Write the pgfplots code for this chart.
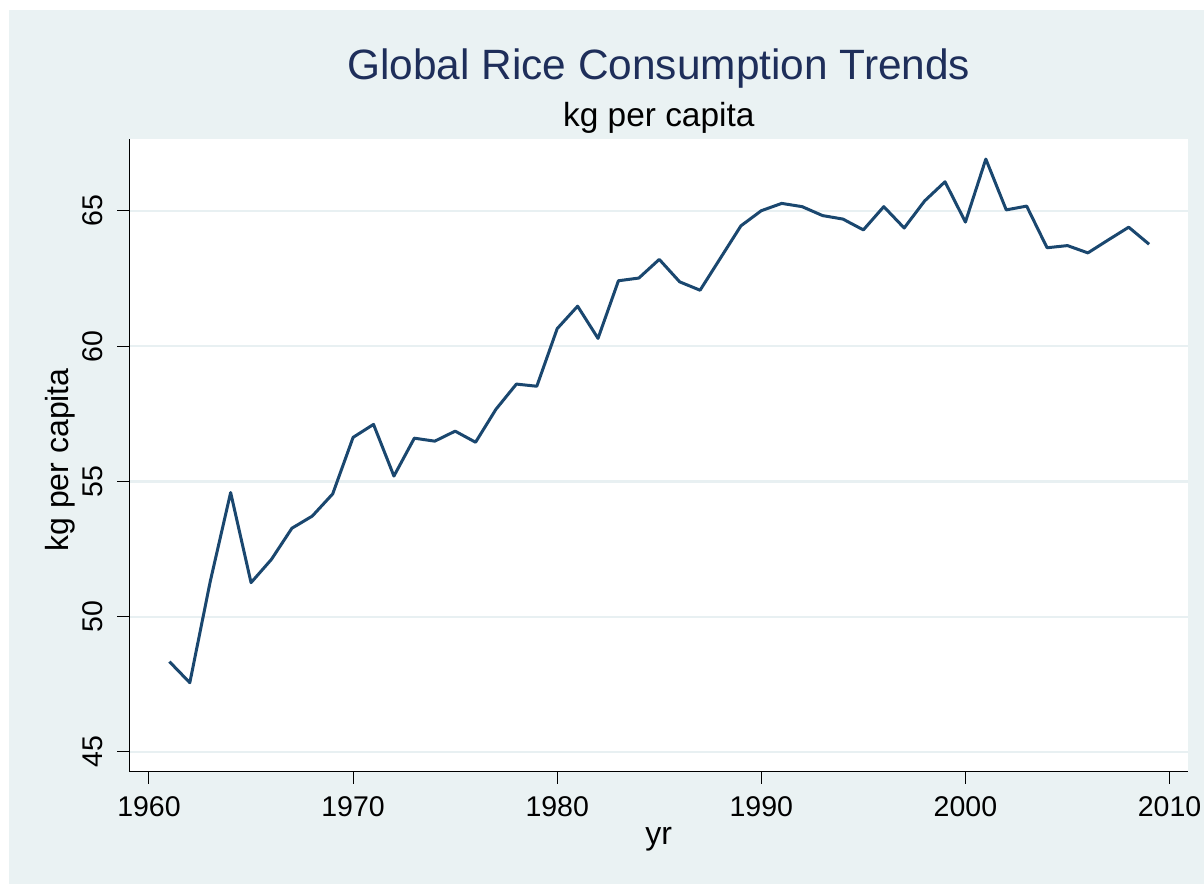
\documentclass[border=0pt]{standalone}
\usepackage{pgfplots}
\pgfplotsset{compat=1.18}
\usepackage{fontspec}
\setmainfont{Liberation Sans}

\definecolor{bgblue}{RGB}{234,242,243}
\definecolor{gridc}{RGB}{232,240,242}
\definecolor{stnavy}{RGB}{26,71,111}
\definecolor{titlec}{RGB}{30,46,90}

\begin{document}
\begin{tikzpicture}
  % graph region (1px = 0.5pt)
  \fill[white] (-64.65pt,-56.15pt) rectangle (537.35pt,385.85pt);
  \fill[bgblue] (-60.15pt,-56.15pt) rectangle (537.35pt,380.85pt);
  \begin{axis}[
      scale only axis,
      width=529.5pt, height=316.2pt,
      xmin=1959.035, xmax=2010.92,
      ymin=44.27, ymax=67.65,
      axis x line*=bottom, axis y line*=left,
      axis line style={-, black, line width=0.6pt},
      axis background/.style={fill=white},
      xtick={1960,1970,...,2010},
      ytick={45,50,...,65},
      tick align=outside,
      major tick length=6pt,
      tick style={black, line width=0.5pt},
      ymajorgrids,
      grid style={gridc, line width=1.2pt},
      /pgf/number format/assume math mode=true,
      /pgf/number format/1000 sep={},
      tick label style={font=\fontsize{14.25}{16}\selectfont},
      xticklabel style={inner sep=0pt, yshift=-6.3pt},
      yticklabel style={xshift=-6.85pt, rotate=90, anchor=south, inner sep=0pt},
      xlabel={yr},
      ylabel={kg per capita},
      every axis x label/.style={at={(rel axis cs:0.5,0)}, anchor=base, yshift=-36.6pt, font=\fontsize{16}{19}\selectfont},
      every axis y label/.style={at={(rel axis cs:0,0.5)}, xshift=-30.4pt, yshift=-2.2pt, rotate=90, anchor=base, font=\fontsize{16}{19}\selectfont},
      clip=false,
    ]
    \addplot[stnavy, line width=1.5pt, line join=round] coordinates {
      (1961,48.34) (1962,47.56) (1963,51.30) (1964,54.59) (1965,51.26)
      (1966,52.12) (1967,53.27) (1968,53.72) (1969,54.54) (1970,56.63)
      (1971,57.11) (1972,55.20) (1973,56.60) (1974,56.49) (1975,56.86)
      (1976,56.45) (1977,57.67) (1978,58.60) (1979,58.52) (1980,60.65)
      (1981,61.48) (1982,60.29) (1983,62.42) (1984,62.52) (1985,63.21)
      (1986,62.38) (1987,62.07) (1988,63.26) (1989,64.45) (1990,65.01)
      (1991,65.28) (1992,65.16) (1993,64.83) (1994,64.70) (1995,64.30)
      (1996,65.16) (1997,64.37) (1998,65.37) (1999,66.08) (2000,64.59)
      (2001,66.92) (2002,65.04) (2003,65.18) (2004,63.64) (2005,63.72)
      (2006,63.45) (2007,63.93) (2008,64.40) (2009,63.77)
    };
  \end{axis}
  \node[anchor=base, text=titlec, font=\fontsize{21.2}{25}\selectfont] at (264.75pt,345.9pt) {Global Rice Consumption Trends};
  \node[anchor=base, font=\fontsize{16.7}{20}\selectfont] at (264.75pt,322.5pt) {kg per capita};
\end{tikzpicture}
\end{document}
